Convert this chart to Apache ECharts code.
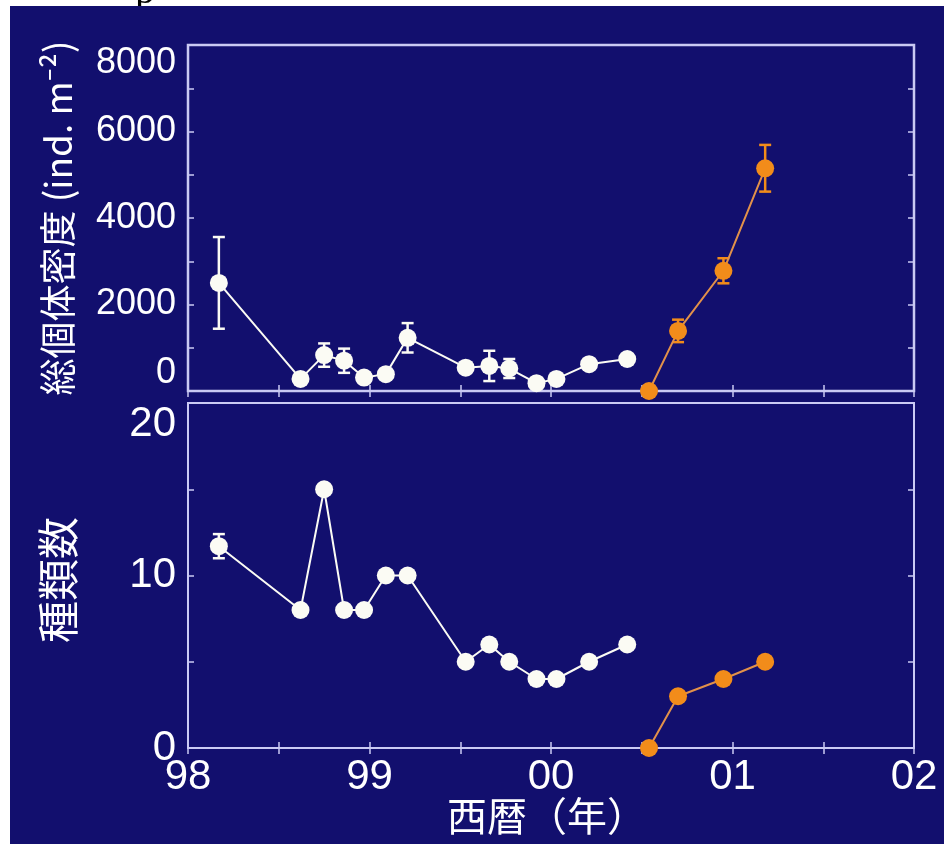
<!DOCTYPE html>
<html>
  <head>
    <meta charset="utf-8">
    <title>総個体密度と種類数</title>
    <style>
      html, body { margin: 0; padding: 0; background: #ffffff; }
      #chart { width: 944px; height: 844px; }
    </style>
  </head>
  <body>
    <div id="chart"></div>
    <script src="https://cdn.jsdelivr.net/npm/echarts@6/dist/echarts.min.js"></script>
    <script>
      // Data (x = decimal year)
      var yearsA = [1998.17, 1998.62, 1998.75, 1998.86, 1998.97, 1999.09, 1999.21, 1999.53, 1999.66, 1999.77, 1999.92, 2000.03, 2000.21, 2000.42];
      var densityA = [2500, 280, 830, 700, 310, 390, 1230, 540, 580, 520, 180, 280, 620, 740];
      var densityErrA = [1060, 0, 270, 280, 0, 0, 340, 0, 350, 220, 0, 0, 0, 0];
      var speciesA = [11.7, 8, 15, 8, 8, 10, 10, 5, 6, 5, 4, 4, 5, 6];
      var speciesErrA = [0.7, 0, 0, 0, 0, 0, 0, 0, 0, 0, 0, 0, 0, 0];

      var yearsB = [2000.54, 2000.70, 2000.95, 2001.18];
      var densityB = [0, 1390, 2780, 5150];
      var densityErrB = [0, 260, 290, 540];
      var speciesB = [0, 3, 4, 5];

      var yearTicks = ['98', '99', '00', '01', '02'];

      var NAVY = '#120f6e';
      var FRAME = '#cacaf4';
      var WHITE = '#fbfbf4';
      var ORANGE = '#f28c1a';
      var FONT = 'Liberation Sans, Arial, sans-serif';
      var CJK = 'Noto Sans CJK JP, sans-serif';

      function pairs(xs, ys) {
        return xs.map(function(x, i) { return [x, ys[i]]; });
      }
      function errPairs(xs, ys, es) {
        var out = [];
        xs.forEach(function(x, i) {
          if (es[i] > 0) out.push([x, ys[i] - es[i], ys[i] + es[i]]);
        });
        return out;
      }

      function errorBar(color) {
        return function(params, api) {
          var lo = api.coord([api.value(0), api.value(1)]);
          var hi = api.coord([api.value(0), api.value(2)]);
          var w = 6;
          var style = { stroke: color, lineWidth: 2.5 };
          return {
            type: 'group',
            children: [
              { type: 'line', shape: { x1: lo[0], y1: lo[1], x2: hi[0], y2: hi[1] }, style: style },
              { type: 'line', shape: { x1: lo[0] - w, y1: lo[1], x2: lo[0] + w, y2: lo[1] }, style: style },
              { type: 'line', shape: { x1: hi[0] - w, y1: hi[1], x2: hi[0] + w, y2: hi[1] }, style: style }
            ]
          };
        };
      }

      var tick = { show: true, inside: true, length: 6, lineStyle: { color: FRAME, width: 1.5 } };
      var minor = { show: true, splitNumber: 2, length: 6, lineStyle: { color: FRAME, width: 1.5 } };

      function xAxis(grid, pos, labels) {
        return {
          type: 'value', gridIndex: grid, position: pos,
          min: 1998, max: 2002, interval: 1,
          axisLine: { show: false },
          axisTick: tick, minorTick: minor,
          splitLine: { show: false },
          axisLabel: labels ? {
            show: true, color: '#ffffff', fontFamily: FONT, fontSize: 42, margin: 8,
            formatter: function(v) { return yearTicks[Math.round(v - 1998)]; }
          } : { show: false }
        };
      }
      function yAxis(grid, pos, max, interval, size, labels) {
        return {
          type: 'value', gridIndex: grid, position: pos,
          min: 0, max: max, interval: interval,
          axisLine: { show: false },
          axisTick: tick, minorTick: minor,
          splitLine: { show: false },
          axisLabel: labels ? {
            show: true, color: '#ffffff', fontFamily: FONT, fontSize: size, margin: 12,
            formatter: function(v) { return String(v); },
            verticalAlignMinLabel: grid === 0 ? 'bottom' : 'middle',
            verticalAlignMaxLabel: 'top'
          } : { show: false }
        };
      }

      var chart = echarts.init(document.getElementById('chart'));
      chart.setOption({
        animation: false,
        backgroundColor: '#ffffff',
        graphic: [
          { type: 'text', x: 145, y: 12, z: -20,
            style: { text: 'p', fill: '#000000', font: '40px Liberation Serif', textAlign: 'center', textVerticalAlign: 'bottom' } },
          { type: 'rect', left: 10, top: 6, z: -10, shape: { width: 934, height: 838 }, style: { fill: NAVY } },
          { type: 'text', x: 58, y: 218, rotation: Math.PI / 2,
            style: { text: '総個体密度 (ind. m⁻²)', fill: '#ffffff', fontFamily: CJK, fontSize: 37,
              textAlign: 'center', textVerticalAlign: 'middle' } },
          { type: 'text', x: 58, y: 580, rotation: Math.PI / 2,
            style: { text: '種類数', fill: '#ffffff', fontFamily: CJK, fontSize: 42,
              textAlign: 'center', textVerticalAlign: 'middle' } },
          { type: 'text', x: 547, y: 816,
            style: { text: '西暦（年）', fill: '#ffffff', fontFamily: CJK, fontSize: 40,
              textAlign: 'center', textVerticalAlign: 'middle' } }
        ],
        grid: [
          { left: 188, top: 45, width: 726, height: 346, show: true, borderColor: FRAME, borderWidth: 2.5, backgroundColor: 'transparent' },
          { left: 188, top: 403, width: 726, height: 345, show: true, borderColor: FRAME, borderWidth: 2, backgroundColor: 'transparent' }
        ],
        xAxis: [
          xAxis(0, 'bottom', false), xAxis(0, 'top', false),
          xAxis(1, 'bottom', true), xAxis(1, 'top', false)
        ],
        yAxis: [
          yAxis(0, 'left', 8000, 2000, 36, true), yAxis(0, 'right', 8000, 2000, 36, false),
          yAxis(1, 'left', 20, 10, 42, true), yAxis(1, 'right', 20, 10, 42, false)
        ],
        series: [
          { type: 'custom', xAxisIndex: 0, yAxisIndex: 0, z: 1, renderItem: errorBar(WHITE), data: errPairs(yearsA, densityA, densityErrA) },
          { type: 'custom', xAxisIndex: 0, yAxisIndex: 0, z: 1, renderItem: errorBar(ORANGE), data: errPairs(yearsB, densityB, densityErrB) },
          { type: 'custom', xAxisIndex: 2, yAxisIndex: 2, z: 1, renderItem: errorBar(WHITE), data: errPairs(yearsA, speciesA, speciesErrA) },
          { type: 'line', xAxisIndex: 0, yAxisIndex: 0, z: 3, data: pairs(yearsA, densityA),
            symbol: 'circle', symbolSize: 18, itemStyle: { color: WHITE }, lineStyle: { color: WHITE, width: 2 } },
          { type: 'line', xAxisIndex: 0, yAxisIndex: 0, z: 3, data: pairs(yearsB, densityB),
            symbol: 'circle', symbolSize: 18, itemStyle: { color: ORANGE }, lineStyle: { color: '#e2914a', width: 2 } },
          { type: 'line', xAxisIndex: 2, yAxisIndex: 2, z: 3, data: pairs(yearsA, speciesA),
            symbol: 'circle', symbolSize: 18, itemStyle: { color: WHITE }, lineStyle: { color: WHITE, width: 2 } },
          { type: 'line', xAxisIndex: 2, yAxisIndex: 2, z: 3, data: pairs(yearsB, speciesB),
            symbol: 'circle', symbolSize: 18, itemStyle: { color: ORANGE }, lineStyle: { color: '#e2914a', width: 2 } }
        ]
      });
    </script>
  </body>
</html>
